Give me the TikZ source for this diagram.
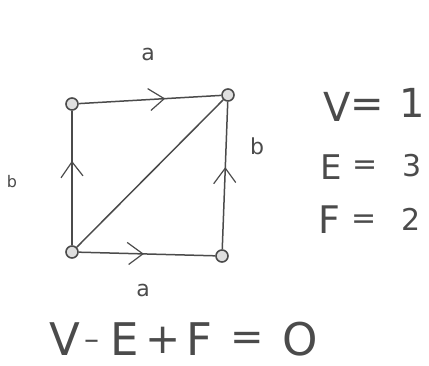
\documentclass[tikz,border=0pt]{standalone}
\usepackage{fontspec}
\setmainfont{DejaVu Sans}
\usetikzlibrary{decorations.markings}
\definecolor{ink}{RGB}{75,75,75}
\tikzset{
  vert/.style={circle,draw=ink,line width=1.6pt,fill=gray!25,minimum size=12pt,inner sep=0pt},
  edge/.style={draw=ink,line width=1.5pt},
  arr/.style={edge,postaction={decorate},decoration={markings,mark=at position #1 with {\draw[ink,line width=1.2pt] (-16pt,11pt) -- (0,0) -- (-14pt,-11pt);}}},
  lbl/.style={text=ink,font=\fontsize{22}{22}\selectfont,inner sep=0pt},
  big/.style={text=ink,font=\fontsize{40}{40}\selectfont,inner sep=0pt},
  huge/.style={text=ink,font=\fontsize{45}{45}\selectfont,inner sep=0pt},
}
\begin{document}
\begin{tikzpicture}[x=1pt,y=-1pt]
\useasboundingbox (0,0) rectangle (429,366);
\node[vert] (tl) at (72,104) {};
\node[vert] (tr) at (228,95) {};
\node[vert] (bl) at (72,252) {};
\node[vert] (br) at (222,256) {};
\draw[arr=0.6] (tl) -- (tr);
\draw[arr=0.47] (bl) -- (br);
\draw[arr=0.62] (bl) -- (tl);
\draw[arr=0.55] (br) -- (tr);
\draw[edge] (bl) -- (tr);
\node[lbl] (la) at (148,54) {a};
\node[lbl,font=\fontsize{16}{16}\selectfont] (lb) at (12,182) {b};
\node[lbl] (rb) at (257,146) {b};
\node[lbl] (ba) at (143,290) {a};
\node[big] (v) at (337,107) {V};
\node[big] (veq) at (367,108) {=};
\node[big] (vone) at (412,103) {1};
\node[big,font=\fontsize{34}{34}\selectfont] (e) at (331,167) {E};
\node[big,font=\fontsize{30}{30}\selectfont] (eeq) at (365,168) {=};
\node[big,font=\fontsize{30}{30}\selectfont] (ethree) at (412,166) {3};
\node[big,font=\fontsize{38}{38}\selectfont] (f) at (329,220) {F};
\node[big,font=\fontsize{30}{30}\selectfont] (feq) at (364,222) {=};
\node[big,font=\fontsize{30}{30}\selectfont] (ftwo) at (411,219) {2};
\node[huge] (bv) at (65,339) {V};
\node[huge,font=\fontsize{30}{30}\selectfont] (bm) at (92,345) {–};
\node[huge] (be) at (125,339) {E};
\node[huge,font=\fontsize{42}{42}\selectfont] (bp) at (163,340) {+};
\node[huge] (bf) at (199,339) {F};
\node[huge,font=\fontsize{40}{40}\selectfont] (beq) at (247,341) {=};
\node[huge] (bo) at (300,339) {O};
\end{tikzpicture}
\end{document}
